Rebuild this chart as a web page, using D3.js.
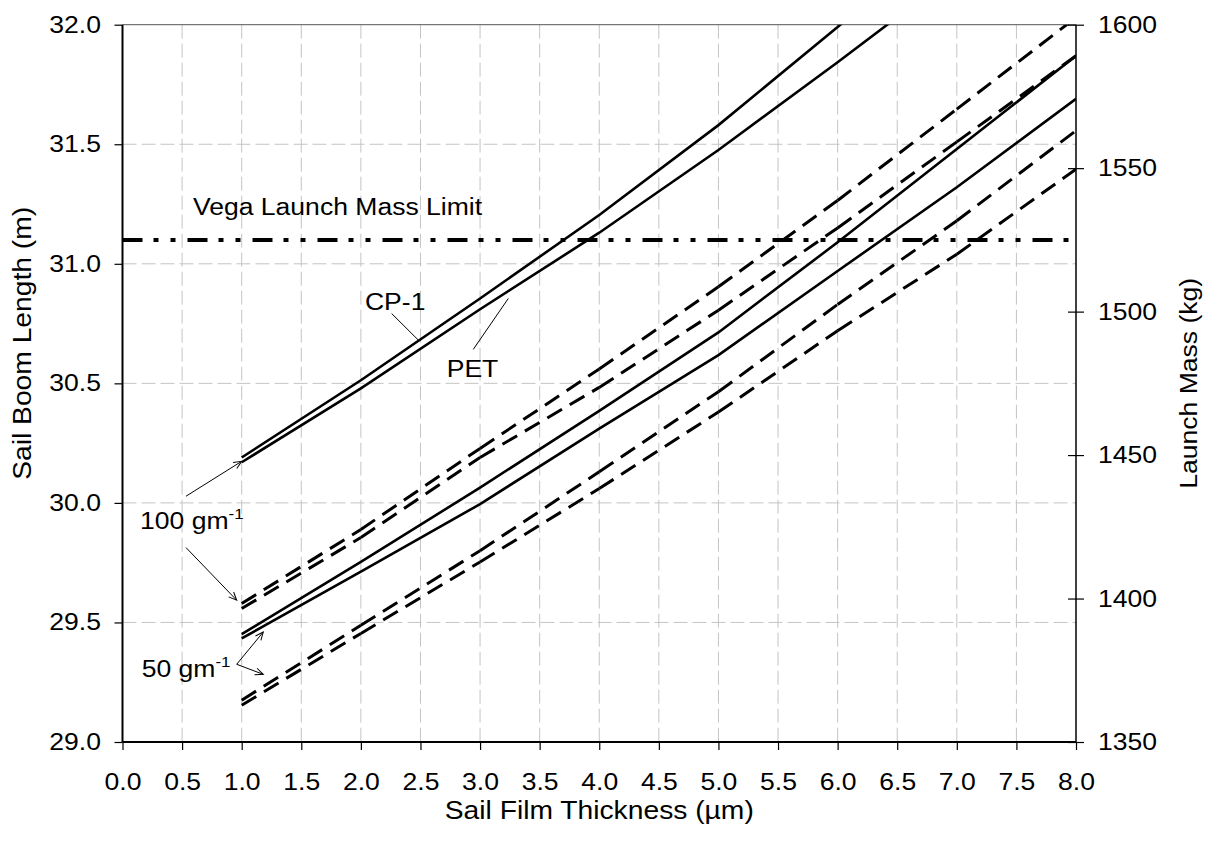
<!DOCTYPE html>
<html>
<head>
<meta charset="utf-8">
<script src="https://cdn.jsdelivr.net/npm/d3@7"></script>
<style>
  body { margin: 0; background: #fff; }
  svg { display: block; }
  text { font-family: "Liberation Sans", Arial, sans-serif; fill: #000; }
</style>
</head>
<body>
<div id="chart"></div>
<script>
// sail film thickness (um) at which each curve was computed
const thickness = [1, 2, 3, 4, 5, 6, 7, 8];

// boom length (m), 100 g/m booms, solid
const cp1Solid100 = [30.19, 30.513, 30.855, 31.204, 31.58, 31.99, 32.42, 32.85];
const petSolid100 = [30.17, 30.479, 30.81, 31.13, 31.476, 31.843, 32.22, 32.6];
// 100 g/m, dashed
const cp1Dash100 = [29.579, 29.889, 30.228, 30.56, 30.904, 31.265, 31.647, 32.03];
const petDash100 = [29.558, 29.855, 30.19, 30.483, 30.806, 31.15, 31.51, 31.87];
// 50 g/m, solid
const cp1Solid50 = [29.451, 29.753, 30.064, 30.385, 30.713, 31.09, 31.48, 31.87];
const petSolid50 = [29.433, 29.713, 29.995, 30.311, 30.618, 30.97, 31.32, 31.69];
// 50 g/m, dashed
const cp1Dash50 = [29.175, 29.488, 29.80, 30.13, 30.465, 30.83, 31.18, 31.557];
const petDash50 = [29.154, 29.454, 29.753, 30.06, 30.38, 30.72, 31.04, 31.396];

const vegaLimit = 31.1;

const xTickValues = [0, 0.5, 1, 1.5, 2, 2.5, 3, 3.5, 4, 4.5, 5, 5.5, 6, 6.5, 7, 7.5, 8];
const yTickValues = [29, 29.5, 30, 30.5, 31, 31.5, 32];
const massTickValues = [1350, 1400, 1450, 1500, 1550, 1600];

const solidSeries = [cp1Solid100, petSolid100, cp1Solid50, petSolid50];
const dashSeries = [cp1Dash100, petDash100, cp1Dash50, petDash50];

const width = 1207, height = 842;
const margin = {top: 24.7, right: 131, bottom: 100, left: 122.5};
const plotW = width - margin.left - margin.right;
const plotH = height - margin.top - margin.bottom;
const stretch = 1.13;   // the labels in the picture are drawn wide

const x = d3.scaleLinear().domain([0, 8]).range([0, plotW]);
const y = d3.scaleLinear().domain([29, 32]).range([plotH, 0]);
const yMass = d3.scaleLinear().domain([1350, 1600]).range([plotH, 0]);

const svg = d3.select("#chart").append("svg")
  .attr("width", width).attr("height", height);

const defs = svg.append("defs");
defs.append("clipPath").attr("id", "plotClip")
  .append("rect").attr("width", plotW).attr("height", plotH);
defs.append("marker")
  .attr("id", "arrow")
  .attr("markerUnits", "userSpaceOnUse")
  .attr("viewBox", "-10 -6 12 12")
  .attr("markerWidth", 12).attr("markerHeight", 12)
  .attr("refX", 0).attr("refY", 0)
  .attr("orient", "auto")
  .append("path")
  .attr("d", "M-8,-3.5L0,0L-8,3.5")
  .attr("fill", "none").attr("stroke", "#000").attr("stroke-width", 1);

const g = svg.append("g").attr("transform", `translate(${margin.left},${margin.top})`);

function widen(sel){
  sel.attr("transform", function(){
    const tx = +this.getAttribute("x") || 0;
    return `translate(${tx},0) scale(${stretch},1) translate(${-tx},0)`;
  });
}

// grid
g.append("g").selectAll("line.vg")
  .data(xTickValues.filter(d => d > 0 && d < 8))
  .join("line")
  .attr("x1", d => x(d)).attr("x2", d => x(d))
  .attr("y1", 0).attr("y2", plotH)
  .attr("stroke", "#c4c4c4").attr("stroke-width", 1)
  .attr("stroke-dasharray", "14,5");
g.append("g").selectAll("line.hg")
  .data(yTickValues.filter(d => d > 29 && d < 32))
  .join("line")
  .attr("x1", 0).attr("x2", plotW)
  .attr("y1", d => y(d)).attr("y2", d => y(d))
  .attr("stroke", "#c4c4c4").attr("stroke-width", 1)
  .attr("stroke-dasharray", "14,5");

// top border
g.append("line").attr("x1", 0).attr("x2", plotW).attr("y1", 0).attr("y2", 0)
  .attr("stroke", "#555").attr("stroke-width", 1);

const lines = g.append("g").attr("clip-path", "url(#plotClip)");

const line = d3.line().x(d => x(d[0])).y(d => y(d[1]));

solidSeries.forEach(vals => {
  lines.append("path")
    .datum(thickness.map((t, i) => [t, vals[i]]))
    .attr("d", line)
    .attr("fill", "none").attr("stroke", "#000").attr("stroke-width", 2.6);
});

// dashed curves: pattern restarts at every data point, like the original
dashSeries.forEach(vals => {
  const pts = thickness.map((t, i) => [t, vals[i]]);
  for (let i = 0; i < pts.length - 1; i++) {
    lines.append("path")
      .datum([pts[i], pts[i + 1]])
      .attr("d", line)
      .attr("fill", "none").attr("stroke", "#000").attr("stroke-width", 3)
      .attr("stroke-dasharray", "17,9");
  }
});

// Vega limit
lines.append("line")
  .attr("x1", x(0)).attr("x2", x(8))
  .attr("y1", y(vegaLimit)).attr("y2", y(vegaLimit))
  .attr("stroke", "#000").attr("stroke-width", 4)
  .attr("stroke-dasharray", "20,11,5,12,5,12");

// axes
const fontSize = 23.5;
const titleSize = 25;
const xAxis = g.append("g").attr("transform", `translate(0,${plotH})`)
  .call(d3.axisBottom(x).tickValues(xTickValues).tickFormat(d3.format(".1f")).tickSize(8).tickPadding(23));
const yAxis = g.append("g")
  .call(d3.axisLeft(y).tickValues(yTickValues).tickFormat(d3.format(".1f")).tickSize(8).tickPadding(13.5));
const rAxis = g.append("g").attr("transform", `translate(${plotW},0)`)
  .call(d3.axisRight(yMass).tickValues(massTickValues).tickFormat(d3.format("d")).tickSize(8).tickPadding(14));
rAxis.selectAll(".tick line").attr("x1", -8);

[xAxis, yAxis, rAxis].forEach(a => {
  a.select(".domain").attr("stroke", "#000").attr("stroke-width", 2);
  a.selectAll(".tick line").attr("stroke", "#000").attr("stroke-width", 1.2);
  a.selectAll("text").style("font-size", fontSize + "px")
    .style("font-family", "'Liberation Sans', Arial, sans-serif").call(widen);
});
rAxis.select(".domain").attr("stroke-width", 1.5);
xAxis.select(".domain").attr("d", `M0,0H${plotW}`);
yAxis.select(".domain").attr("d", `M0,${plotH}V0`);
rAxis.select(".domain").attr("d", `M0,${plotH}V0`);

// axis titles
g.append("text")
  .attr("transform", `translate(${plotW / 2},${plotH + 77}) scale(${stretch},1)`)
  .attr("text-anchor", "middle").style("font-size", titleSize + "px")
  .text("Sail Film Thickness (µm)");
g.append("text")
  .attr("transform", `translate(${-92},${plotH / 2 - 40}) rotate(-90) scale(${stretch},1)`)
  .attr("text-anchor", "middle").style("font-size", titleSize + "px")
  .text("Sail Boom Length (m)");
g.append("text")
  .attr("transform", `translate(${plotW + 121},${plotH / 2}) rotate(-90) scale(${stretch},1)`)
  .attr("text-anchor", "middle").style("font-size", fontSize + "px")
  .text("Launch Mass (kg)");

// annotations, placed in data units
function label(tx, ty, txt) {
  return g.append("text")
    .attr("x", x(tx)).attr("y", y(ty))
    .style("font-size", fontSize + "px")
    .text(txt)
    .call(widen);
}
label(0.591, 31.204, "Vega Launch Mass Limit");
label(2.034, 30.806, "CP-1");
label(2.72, 30.526, "PET");

function unitLabel(tx, ty, num) {
  const t = g.append("text")
    .attr("x", x(tx)).attr("y", y(ty))
    .style("font-size", fontSize + "px");
  t.append("tspan").text(num + " gm");
  t.append("tspan").attr("dy", -10).style("font-size", "15px").text("-1");
  t.call(widen);
}
unitLabel(0.147, 29.89, "100");
unitLabel(0.161, 29.272, "50");

const leaders = [
  [2.258, 30.792, 2.482, 30.681],
  [2.943, 30.642, 3.237, 30.855]
];
g.selectAll("line.leader").data(leaders).join("line")
  .attr("x1", d => x(d[0])).attr("y1", d => y(d[1]))
  .attr("x2", d => x(d[2])).attr("y2", d => y(d[3]))
  .attr("stroke", "#000").attr("stroke-width", 1);

const arrows = [
  [0.533, 30.028, 1.0, 30.174],
  [0.533, 29.813, 0.958, 29.593],
  [0.958, 29.325, 1.181, 29.46],
  [0.958, 29.325, 1.181, 29.283]
];
g.selectAll("line.arrow").data(arrows).join("line")
  .attr("x1", d => x(d[0])).attr("y1", d => y(d[1]))
  .attr("x2", d => x(d[2])).attr("y2", d => y(d[3]))
  .attr("stroke", "#000").attr("stroke-width", 1)
  .attr("marker-end", "url(#arrow)");
</script>
</body>
</html>
